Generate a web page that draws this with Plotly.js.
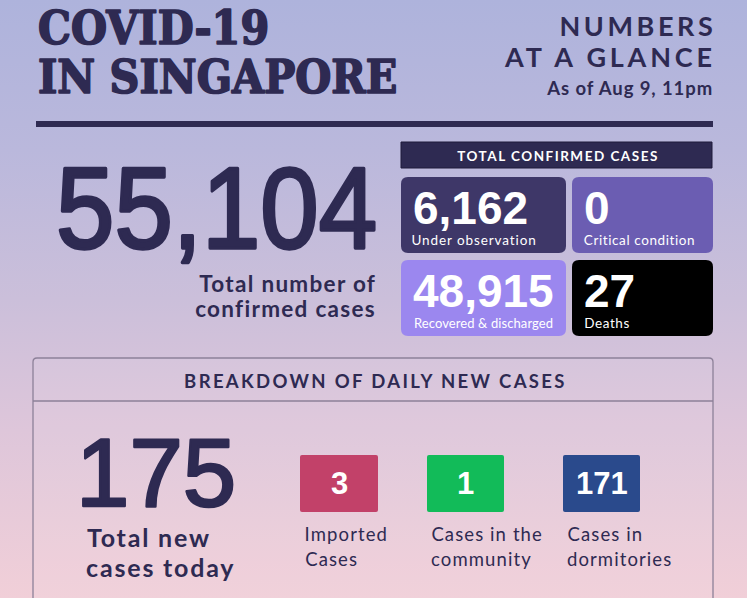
<!DOCTYPE html>
<html>
<head>
<meta charset="utf-8">
<script src="https://cdn.plot.ly/plotly-3.0.1.min.js"></script>
<style>
html,body{margin:0;padding:0;}
#chart{width:747px;height:598px;background:linear-gradient(to bottom,#aeb3dc 0%,#bab8dc 25%,#cbbfda 50%,#dec6da 72%,#f1cfd8 100%);}
</style>
</head>
<body>
<div id="chart"></div>
<script>
// ---- data ----
const titleLines = ['COVID-19', 'IN SINGAPORE'];
const subtitleLines = ['NUMBERS', 'AT A GLANCE'];
const asOfText = 'As of Aug 9, 11pm';
const totalConfirmed = 55104;
const totalConfirmedLabel = ['Total number of', 'confirmed cases'];
const confirmedHeader = 'TOTAL CONFIRMED CASES';
const caseLabels = ['Under observation', 'Critical condition', 'Recovered & discharged', 'Deaths'];
const caseValues = [6162, 0, 48915, 27];
const breakdownHeader = 'BREAKDOWN OF DAILY NEW CASES';
const newCasesTotal = 175;
const newCasesLabel = ['Total new', 'cases today'];
const newCaseLabels = [['Imported', 'Cases'], ['Cases in the', 'community'], ['Cases in', 'dormitories']];
const newCaseValues = [3, 1, 171];

// ---- layout / style (pixel grid) ----
const DARK = '#2e2a52';
const tileColors = ['#3e3768', '#6b5db2', '#9b87ef', '#000000'];
const tileX = [[401, 566], [572, 713], [401, 566], [572, 713]];
const tileY = [[177, 253], [177, 253], [260, 336], [260, 336]];
const tileLabelSize = [13.5, 13.5, 13, 13.5];
const tileLabelSpacing = [0.9, 0.6, 0.1, 0.6];
const newColors = ['#c24169', '#12bb59', '#2a4a8c'];
const newX = [[300, 378], [427, 504], [563, 640]];
const newY = [455, 512];

function fmt(v) { return v.toLocaleString('en-US'); }
function roundRect(x0, y0, x1, y1, r) {
  return `M${x0 + r},${y0} L${x1 - r},${y0} Q${x1},${y0} ${x1},${y0 + r} L${x1},${y1 - r} Q${x1},${y1} ${x1 - r},${y1} L${x0 + r},${y1} Q${x0},${y1} ${x0},${y1 - r} L${x0},${y0 + r} Q${x0},${y0} ${x0 + r},${y0} Z`;
}

const shapes = [];
const annotations = [];
const extraCss = [];
// spacing: letter-spacing in px (compensate the anchor for the extra width)
function ann(text, x, y, xanchor, size, color, family, weight, spacing, css) {
  const i = annotations.length;
  const n = String(text).length;
  let ax = x;
  if (spacing) {
    if (xanchor === 'left') ax = x + n * spacing * 0.35;
    else if (xanchor === 'right') ax = x - (n * spacing / 2 - spacing) + 1.5;
    else ax = x + spacing / 2;
  }
  annotations.push({
    text: text, x: ax, y: y, xref: 'x', yref: 'y', xanchor: xanchor, yanchor: 'middle',
    showarrow: false, font: {size: size, color: color, family: family, weight: weight || 'normal'}
  });
  let rule = (spacing ? 'letter-spacing:' + spacing + 'px;' : '') + (css || '');
  if (rule) extraCss.push('g.annotation[data-index="' + i + '"] text.annotation-text{' + rule + '}');
}

const SANS = 'Lato, "Open Sans", sans-serif';
const ARIAL = '"Liberation Sans", Arial, sans-serif';
const SLAB = '"DejaVu Serif Condensed", "DejaVu Serif", serif';
const THICK = function (w) { return 'stroke:' + DARK + ';stroke-width:' + w + 'px;stroke-linejoin:round;'; };

// title
ann(titleLines[0], 36, 28, 'left', 46, DARK, SLAB, 'bold', 0, THICK(1.6));
ann(titleLines[1], 36, 77, 'left', 46, DARK, SLAB, 'bold', 0, THICK(1.6));
ann(subtitleLines[0], 713, 25, 'right', 27, DARK, SANS, 'bold', 3.6);
ann(subtitleLines[1], 713, 56, 'right', 27, DARK, SANS, 'bold', 3.8);
ann(asOfText, 712, 88, 'right', 18.5, DARK, SANS, 'bold', 0.9);

// rule
shapes.push({type: 'rect', xref: 'x', yref: 'y', x0: 36, x1: 713, y0: 121, y1: 127, fillcolor: DARK, line: {width: 0}});

// big total
ann(fmt(totalConfirmed), 216, 208, 'center', 105, DARK, ARIAL, 'normal', 0,
    THICK(3) + 'transform-box:fill-box;transform-origin:center;transform:scale(1,1.09);');
ann(totalConfirmedLabel[0], 375, 283, 'right', 22.5, DARK, SANS, 'bold', 1.3);
ann(totalConfirmedLabel[1], 375, 308, 'right', 22.5, DARK, SANS, 'bold', 1.3);

// header bar
shapes.push({type: 'rect', xref: 'x', yref: 'y', x0: 401, x1: 712, y0: 142, y1: 168, fillcolor: DARK, line: {color: '#1e1b3a', width: 1}});
ann(confirmedHeader, 557, 155.5, 'center', 13.5, '#ffffff', SANS, 'bold', 1.5);

// tiles
caseValues.forEach((v, i) => {
  shapes.push({type: 'path', xref: 'x', yref: 'y', path: roundRect(tileX[i][0], tileY[i][0], tileX[i][1], tileY[i][1], 7), fillcolor: tileColors[i], line: {width: 0}});
  ann(fmt(v), tileX[i][0] + 10, tileY[i][0] + 31, 'left', 46, '#ffffff', ARIAL, 'bold', 0);
  ann(caseLabels[i], tileX[i][0] + 11, tileY[i][0] + 63, 'left', tileLabelSize[i], '#ffffff', SANS, 'normal', tileLabelSpacing[i]);
});

// breakdown panel
shapes.push({type: 'path', xref: 'x', yref: 'y', path: 'M33,600 L33,362 Q33,358 37,358 L709,358 Q713,358 713,362 L713,600', fillcolor: 'rgba(255,255,255,0.06)', line: {color: '#8d8199', width: 1.3}});
shapes.push({type: 'line', xref: 'x', yref: 'y', x0: 33, x1: 713, y0: 401, y1: 401, line: {color: '#8d8199', width: 1.3}});
ann(breakdownHeader, 374, 381, 'center', 18.5, DARK, SANS, 'bold', 2.35);

ann(String(newCasesTotal), 155.5, 472, 'center', 96, DARK, ARIAL, 'normal', 0, THICK(2.5));
ann(newCasesLabel[0], 87, 537, 'left', 25, DARK, SANS, 'bold', 1.8);
ann(newCasesLabel[1], 87, 567, 'left', 25, DARK, SANS, 'bold', 1.8);

newCaseValues.forEach((v, i) => {
  shapes.push({type: 'path', xref: 'x', yref: 'y', path: roundRect(newX[i][0], newY[0], newX[i][1], newY[1], 2), fillcolor: newColors[i], line: {width: 0}});
  ann(fmt(v), (newX[i][0] + newX[i][1]) / 2, 483, 'center', 31, '#ffffff', ARIAL, 'bold', 0);
  ann(newCaseLabels[i][0], newX[i][0] + 4, 534, 'left', 18.5, DARK, SANS, 'normal', 1.1);
  ann(newCaseLabels[i][1], newX[i][0] + 4, 559, 'left', 18.5, DARK, SANS, 'normal', 1.1);
});

const styleEl = document.createElement('style');
styleEl.textContent = extraCss.join('\n');
document.head.appendChild(styleEl);

const layout = {
  width: 747, height: 598, autosize: false,
  margin: {l: 0, r: 0, t: 0, b: 0, pad: 0},
  paper_bgcolor: 'rgba(0,0,0,0)', plot_bgcolor: 'rgba(0,0,0,0)',
  xaxis: {range: [0, 747], visible: false, fixedrange: true},
  yaxis: {range: [598, 0], visible: false, fixedrange: true},
  showlegend: false,
  shapes: shapes,
  annotations: annotations
};

Plotly.newPlot('chart', [], layout, {displayModeBar: false, staticPlot: true});
</script>
</body>
</html>
